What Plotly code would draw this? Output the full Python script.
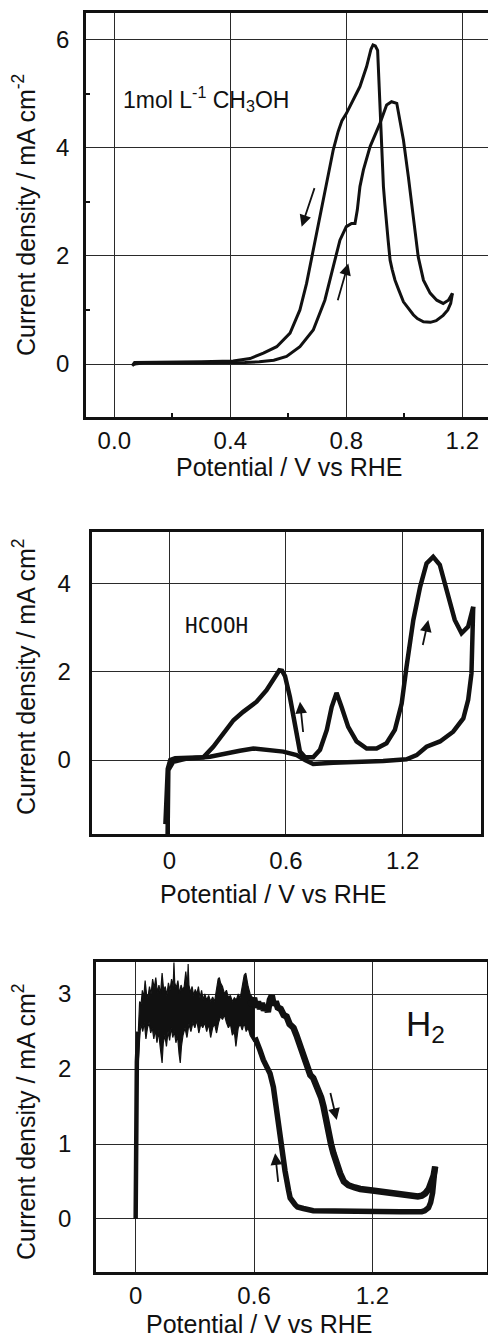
import plotly.graph_objects as go

# ---------------- Data ----------------
# Panel 1: 1 mol L-1 CH3OH
ch3oh_fwd_x = [0.07, 0.10, 0.20, 0.30, 0.40, 0.45, 0.50, 0.55, 0.594, 0.64, 0.686, 0.726, 0.755, 0.778, 0.80,
               0.818, 0.83, 0.838, 0.847, 0.859, 0.882, 0.916, 0.939, 0.956, 0.974, 0.985, 0.997, 1.014, 1.031,
               1.048, 1.066, 1.089, 1.112, 1.134, 1.152, 1.166]
ch3oh_fwd_y = [0.0, 0.02, 0.02, 0.02, 0.02, 0.03, 0.04, 0.07, 0.14, 0.32, 0.63, 1.18, 1.8, 2.29, 2.54,
               2.6, 2.6, 2.85, 3.28, 3.59, 4.02, 4.45, 4.79, 4.85, 4.82, 4.51, 4.14, 3.46, 2.66,
               1.98, 1.55, 1.31, 1.18, 1.12, 1.18, 1.31]
ch3oh_rev_x = [1.166, 1.16, 1.15, 1.134, 1.11, 1.09, 1.066, 1.045, 1.031, 1.014, 0.997, 0.98, 0.968, 0.958,
               0.951, 0.944, 0.939, 0.933, 0.928, 0.922, 0.916, 0.912, 0.908, 0.90, 0.892, 0.885, 0.87, 0.847,
               0.824, 0.80, 0.785, 0.772, 0.755, 0.732, 0.709, 0.686, 0.663, 0.64, 0.606, 0.56, 0.514, 0.468,
               0.41, 0.30, 0.18, 0.09, 0.07, 0.062, 0.07]
ch3oh_rev_y = [1.31, 1.12, 1.0, 0.9, 0.8, 0.77, 0.78, 0.84, 0.91, 1.02, 1.15, 1.38, 1.55, 1.75,
               1.92, 2.3, 2.54, 2.95, 3.28, 4.14, 4.88, 5.5, 5.8, 5.88, 5.9, 5.82, 5.5, 5.13,
               4.88, 4.63, 4.5, 4.3, 3.96, 3.34, 2.72, 2.05, 1.49, 1.0, 0.57, 0.32, 0.2, 0.1,
               0.055, 0.04, 0.04, 0.04, 0.03, -0.03, 0.0]

# Panel 2: HCOOH
hcooh_fwd_x = [-0.02, -0.015, -0.008, 0.005, 0.03, 0.1, 0.175, 0.226, 0.278, 0.33, 0.38, 0.449, 0.5, 0.535,
               0.566, 0.58, 0.595, 0.62, 0.646, 0.672, 0.698, 0.74, 0.775, 0.81, 0.835, 0.86, 0.886, 0.92,
               0.963, 1.015, 1.066, 1.117, 1.16, 1.195, 1.22, 1.255, 1.29, 1.323, 1.357, 1.391, 1.426, 1.468,
               1.503, 1.537, 1.563]
hcooh_fwd_y = [-1.45, -0.8, -0.2, 0.0, 0.04, 0.05, 0.06, 0.3, 0.6, 0.9, 1.09, 1.32, 1.58, 1.81,
               2.03, 2.02, 1.9, 1.43, 0.75, 0.19, 0.06, 0.06, 0.23, 0.68, 1.2, 1.52, 1.2, 0.75,
               0.42, 0.26, 0.26, 0.38, 0.68, 1.28, 2.11, 3.17, 3.92, 4.45, 4.6, 4.42, 3.85, 3.17,
               2.87, 3.02, 3.47]
hcooh_rev_x = [1.563, 1.56, 1.554, 1.537, 1.512, 1.46, 1.392, 1.323, 1.272, 1.22, 1.1, 0.843, 0.74, 0.698,
               0.655, 0.586, 0.5, 0.432, 0.363, 0.295, 0.209, 0.089, 0.02, -0.005, -0.009]
hcooh_rev_y = [3.47, 2.72, 1.96, 1.36, 0.94, 0.64, 0.42, 0.3, 0.11, 0.015, -0.02, -0.06, -0.09, 0.0,
               0.11, 0.19, 0.24, 0.26, 0.21, 0.14, 0.075, 0.03, -0.04, -0.23, -1.8]

# Panel 3: H2 (noisy plateau drawn as upper / lower envelope)
h2_rise_x = [0.0, 0.003, 0.006, 0.0135]
h2_rise_y = [0.0, 1.0, 2.1, 2.5]
h2_band_up_x = [0.0135, 0.02, 0.027, 0.034, 0.041, 0.048, 0.055, 0.062, 0.07, 0.078, 0.086, 0.094, 0.102,
                0.11, 0.118, 0.126, 0.134, 0.142, 0.15, 0.158, 0.166, 0.174, 0.182, 0.19, 0.194, 0.198,
                0.206, 0.214, 0.222, 0.23, 0.238, 0.246, 0.254, 0.262, 0.266, 0.27, 0.278, 0.286, 0.294,
                0.302, 0.31, 0.318, 0.326, 0.334, 0.342, 0.35, 0.36, 0.37, 0.38, 0.39, 0.4, 0.41, 0.418,
                0.424, 0.43, 0.44, 0.45, 0.46, 0.47, 0.48, 0.49, 0.5, 0.51, 0.52, 0.53, 0.54, 0.55, 0.558,
                0.564, 0.57, 0.58, 0.59, 0.6]
h2_band_up_y = [2.5, 2.9, 2.85, 3.05, 2.95, 3.18, 3.0, 2.95, 3.1, 3.0, 3.2, 3.08, 3.22,
                3.02, 3.12, 3.0, 3.28, 3.05, 3.1, 2.98, 3.15, 3.05, 3.2, 3.1, 3.42, 3.15,
                3.08, 3.18, 3.0, 3.12, 3.05, 3.1, 3.3, 3.1, 3.4, 3.12, 3.02, 3.1, 2.98,
                3.06, 3.0, 3.1, 2.95, 3.05, 2.92, 3.0, 2.92, 2.98, 2.9, 2.96, 2.9, 3.05, 3.2,
                3.22, 3.15, 3.1, 3.0, 3.05, 2.95, 2.98, 2.9, 2.95, 2.92, 3.0, 2.95, 3.1, 3.25, 3.28,
                3.15, 3.1, 3.0, 2.95, 2.92]
h2_band_lo_x = [0.0135, 0.02, 0.028, 0.036, 0.044, 0.052, 0.06, 0.068, 0.076, 0.084, 0.092, 0.1, 0.108,
                0.116, 0.124, 0.13, 0.134, 0.14, 0.148, 0.156, 0.164, 0.172, 0.18, 0.188, 0.196, 0.204,
                0.212, 0.22, 0.226, 0.232, 0.24, 0.25, 0.26, 0.27, 0.28, 0.29, 0.3, 0.31, 0.32, 0.33,
                0.34, 0.35, 0.36, 0.37, 0.38, 0.39, 0.4, 0.41, 0.42, 0.43, 0.44, 0.45, 0.46, 0.47, 0.48,
                0.49, 0.5, 0.508, 0.515, 0.52, 0.53, 0.54, 0.55, 0.56, 0.57, 0.58, 0.59, 0.6]
h2_band_lo_y = [2.12, 2.45, 2.6, 2.5, 2.62, 2.4, 2.55, 2.62, 2.48, 2.55, 2.4, 2.52, 2.35,
                2.5, 2.3, 2.15, 2.08, 2.35, 2.45, 2.3, 2.5, 2.38, 2.55, 2.42, 2.5, 2.35,
                2.45, 2.2, 2.08, 2.3, 2.45, 2.55, 2.42, 2.6, 2.5, 2.62, 2.55, 2.65, 2.48, 2.6,
                2.55, 2.62, 2.5, 2.6, 2.42, 2.55, 2.6, 2.48, 2.62, 2.7, 2.66, 2.72, 2.62, 2.55, 2.6,
                2.45, 2.5, 2.3, 2.45, 2.55, 2.6, 2.52, 2.62, 2.5, 2.55, 2.45, 2.4, 2.36]
h2_outer_x = [0.58, 0.59, 0.6, 0.61, 0.62, 0.63, 0.64, 0.65, 0.66, 0.67, 0.68, 0.69, 0.7, 0.71, 0.72,
              0.735, 0.75, 0.765, 0.78, 0.8, 0.815, 0.833, 0.85, 0.867, 0.885, 0.9, 0.915, 0.926, 0.94,
              0.952, 0.965, 0.977, 0.99, 1.002, 1.02, 1.036, 1.055, 1.078, 1.11, 1.138, 1.2, 1.256, 1.3,
              1.34, 1.4, 1.43, 1.45, 1.467, 1.485, 1.5, 1.51, 1.518]
h2_outer_y = [2.92, 2.85, 2.95, 2.82, 2.9, 2.8, 2.88, 2.78, 2.85, 2.76, 2.92, 2.98, 2.85, 2.9, 2.82,
              2.8, 2.72, 2.7, 2.6, 2.55, 2.45, 2.32, 2.15, 2.02, 1.92, 1.88, 1.8, 1.74, 1.62,
              1.5, 1.3, 1.14, 1.0, 0.88, 0.72, 0.61, 0.5, 0.45, 0.42, 0.4, 0.38, 0.36, 0.34,
              0.32, 0.3, 0.3, 0.31, 0.34, 0.4, 0.48, 0.58, 0.7]
h2_inner_x = [1.518, 1.512, 1.505, 1.495, 1.484, 1.465, 1.45, 1.34, 1.2, 1.0, 0.9, 0.85, 0.82, 0.808,
              0.795, 0.783, 0.775, 0.766, 0.757, 0.749, 0.74, 0.732, 0.723, 0.715, 0.706, 0.698, 0.681,
              0.665, 0.647, 0.63, 0.615, 0.605]
h2_inner_y = [0.7, 0.5, 0.35, 0.22, 0.15, 0.11, 0.098, 0.095, 0.095, 0.098, 0.11, 0.14, 0.16, 0.19,
              0.23, 0.28, 0.38, 0.48, 0.64, 0.79, 0.97, 1.14, 1.32, 1.5, 1.64, 1.76, 1.94,
              2.02, 2.12, 2.25, 2.35, 2.42]

# ---------------- Figure ----------------
W, H = 488, 1339
FONT = "Liberation Sans, Arial, Helvetica, sans-serif"
INK = "#111111"
GRID = "#2a2a2a"


def px(x):
    return x / W


def py(y):
    return 1 - y / H


fig = go.Figure()

line_style1 = dict(color=INK, width=3)
fig.add_trace(go.Scatter(x=ch3oh_fwd_x, y=ch3oh_fwd_y, mode="lines", line=line_style1, xaxis="x", yaxis="y"))
fig.add_trace(go.Scatter(x=ch3oh_rev_x, y=ch3oh_rev_y, mode="lines", line=line_style1, xaxis="x", yaxis="y"))

line_style2 = dict(color=INK, width=4.5)
fig.add_trace(go.Scatter(x=hcooh_fwd_x, y=hcooh_fwd_y, mode="lines", line=line_style2, xaxis="x2", yaxis="y2"))
fig.add_trace(go.Scatter(x=hcooh_rev_x, y=hcooh_rev_y, mode="lines", line=line_style2, xaxis="x2", yaxis="y2"))

band_x = h2_band_up_x + h2_band_lo_x[::-1]
band_y = h2_band_up_y + h2_band_lo_y[::-1]
fig.add_trace(go.Scatter(x=band_x, y=band_y, mode="lines", fill="toself", fillcolor=INK,
                         line=dict(color=INK, width=1.2), xaxis="x3", yaxis="y3"))
fig.add_trace(go.Scatter(x=h2_rise_x, y=h2_rise_y, mode="lines", line=dict(color=INK, width=4.5),
                         xaxis="x3", yaxis="y3"))
fig.add_trace(go.Scatter(x=h2_outer_x, y=h2_outer_y, mode="lines", line=dict(color=INK, width=6.5),
                         xaxis="x3", yaxis="y3"))
fig.add_trace(go.Scatter(x=h2_inner_x, y=h2_inner_y, mode="lines", line=dict(color=INK, width=5.5),
                         xaxis="x3", yaxis="y3"))

tickfont = dict(family=FONT, size=24, color=INK)


def xax(domain, rng, tickvals, ticktext, anchor, standoff, minor=None, mirror=True):
    d = dict(domain=domain, range=rng, tickvals=tickvals, ticktext=ticktext, anchor=anchor,
             showgrid=True, gridcolor=GRID, gridwidth=1.3, zeroline=False,
             showline=True, linecolor=INK, linewidth=2.5, mirror=mirror,
             ticks="", tickfont=tickfont, ticklabelstandoff=standoff, fixedrange=True)
    if minor:
        d["minor"] = dict(tickvals=minor, ticks="inside", ticklen=4, tickwidth=1.5,
                          tickcolor=INK, showgrid=False)
    return d


def yax(domain, rng, tickvals, anchor, standoff, minor=None, mirror=True):
    d = dict(domain=domain, range=rng, tickvals=tickvals, ticktext=[str(v) for v in tickvals],
             anchor=anchor, showgrid=True, gridcolor=GRID, gridwidth=1.3, zeroline=False,
             showline=True, linecolor=INK, linewidth=2.5, mirror=mirror,
             ticks="", tickfont=tickfont, ticklabelstandoff=standoff, fixedrange=True)
    if minor:
        d["minor"] = dict(tickvals=minor, ticks="inside", ticklen=4, tickwidth=1.5,
                          tickcolor=INK, showgrid=False)
    return d


layout = dict(
    width=W, height=H, margin=dict(l=0, r=0, t=0, b=0),
    paper_bgcolor="white", plot_bgcolor="white", showlegend=False,
    font=dict(family=FONT, color=INK),
    xaxis=xax([px(86), 1.0], [-0.0976, 1.2886], [0, 0.4, 0.8, 1.2], ["0.0", "0.4", "0.8", "1.2"],
              "y", 0, minor=[0.2, 0.6, 1.0]),
    yaxis=yax([py(417), py(13)], [-0.98, 6.49], [0, 2, 4, 6], "x", 9, minor=[1, 3, 5], mirror=False),
    xaxis2=xax([px(92.3), px(481)], [-0.396, 1.603], [0, 0.6, 1.2], ["0", "0.6", "1.2"], "y2", 3),
    yaxis2=yax([py(834), py(531.7)], [-1.675, 5.168], [0, 2, 4], "x2", 14),
    xaxis3=xax([px(96), px(486.7)], [-0.201, 1.779], [0, 0.6, 1.2], ["0", "0.6", "1.2"], "y3", 0),
    yaxis3=yax([py(1272.3), py(962)], [-0.711, 3.427], [0, 1, 2, 3], "x3", 17),
)
fig.update_layout(**layout)

title_font = dict(family=FONT, size=25, color=INK)
ann = []
# x titles
for cx, cy in [(289, 467), (273, 894), (259, 1324)]:
    ann.append(dict(text="Potential / V vs RHE", x=px(cx), y=py(cy), xref="paper", yref="paper",
                    xanchor="center", yanchor="middle", showarrow=False, font=title_font))
# y titles
for cy, sup in [(215, "-2"), (677, "2"), (1122, "2")]:
    ann.append(dict(text="Current density / mA cm<sup>%s</sup>" % sup, x=px(24), y=py(cy),
                    xref="paper", yref="paper", xanchor="center", yanchor="middle",
                    textangle=-90, showarrow=False, font=title_font))
# labels
ann.append(dict(text="1mol L<sup>-1</sup> CH<sub>3</sub>OH", x=px(121), y=py(99), xref="paper",
                yref="paper", xanchor="left", yanchor="middle", showarrow=False,
                font=dict(family=FONT, size=23, color=INK)))
ann.append(dict(text="HCOOH", x=px(216), y=py(626), xref="paper", yref="paper",
                xanchor="center", yanchor="middle", showarrow=False,
                font=dict(family="DejaVu Sans Mono, monospace", size=21, color=INK)))
ann.append(dict(text="H<sub>2</sub>", x=px(404), y=py(1026), xref="paper", yref="paper",
                xanchor="left", yanchor="middle", showarrow=False,
                font=dict(family=FONT, size=35, color=INK)))

# arrows (head x,y ; tail ax,ay) in data coords
arrows = [
    ("x", "y", 0.646, 2.54, 0.692, 3.28),
    ("x", "y", 0.807, 1.86, 0.769, 1.15),
    ("x2", "y2", 0.672, 1.32, 0.689, 0.6),
    ("x2", "y2", 1.332, 3.17, 1.302, 2.57),
    ("x3", "y3", 1.019, 1.32, 0.985, 1.7),
    ("x3", "y3", 0.707, 0.876, 0.723, 0.476),
]
for xr, yr, hx, hy, tx, ty in arrows:
    ann.append(dict(x=hx, y=hy, ax=tx, ay=ty, xref=xr, yref=yr, axref=xr, ayref=yr, text="",
                    showarrow=True, arrowhead=2, arrowsize=1.3, arrowwidth=1.8, arrowcolor=INK,
                    standoff=0, startstandoff=0))

fig.update_layout(annotations=ann)

fig.write_html("out.html")
